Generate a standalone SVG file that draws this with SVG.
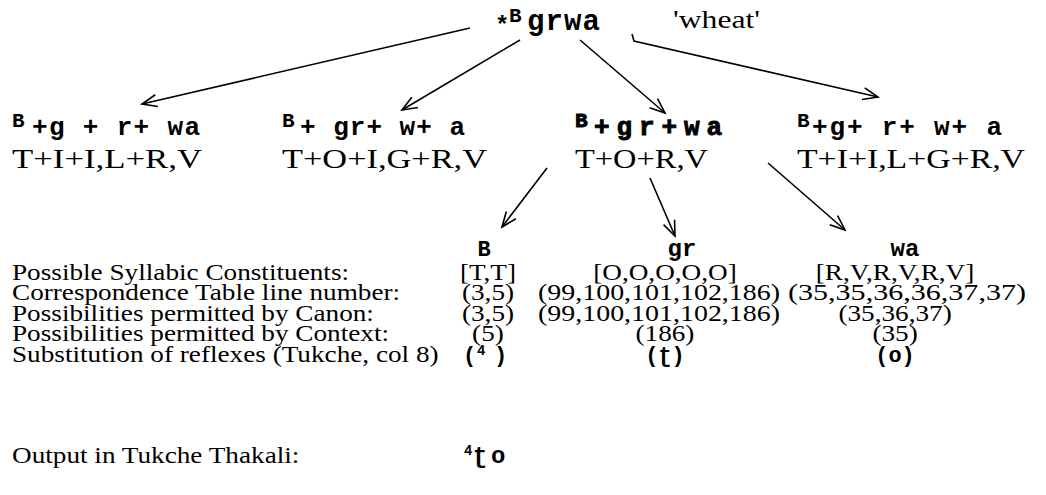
<svg xmlns="http://www.w3.org/2000/svg" width="1046" height="495" viewBox="0 0 1046 495">
<style>
.m{font-family:"Liberation Mono","DejaVu Sans Mono",monospace;font-weight:bold;fill:#000}
.s{font-family:"Liberation Serif","DejaVu Serif",serif;fill:#000}
.sup{font-size:21px}
.mono{font-size:26px}
.big{font-size:27px}
.tb{font-size:23px}
.hv{stroke:#000;stroke-width:0.9}
.c{fill:none;stroke:#000;stroke-width:1.6}
</style>
<defs>
<marker id="ah" markerWidth="20" markerHeight="20" refX="0" refY="0" viewBox="-16 -8 20 16" orient="auto" markerUnits="userSpaceOnUse">
<path d="M-15,-6 L0,0 L-15,6" fill="none" stroke="#000" stroke-width="1.6"/>
</marker>
</defs>
<rect width="1046" height="495" fill="#fff"/>

<g id="root">
<text class="m" x="495" y="33" font-size="24">*</text>
<text class="m sup" x="509" y="22">B</text>
<text class="m" x="527" y="30" font-size="29" textLength="73">grwa</text>
<text class="s" x="673" y="28" font-size="26" textLength="87" lengthAdjust="spacingAndGlyphs">'wheat'</text>
</g>

<g id="connectors">
<line class="c" x1="470" y1="28" x2="142" y2="104" marker-end="url(#ah)"/>
<line class="c" x1="520" y1="40" x2="402" y2="110" marker-end="url(#ah)"/>
<line class="c" x1="580" y1="40" x2="665" y2="113" marker-end="url(#ah)"/>
<polyline class="c" points="632,34 634,41 878,97" marker-end="url(#ah)"/>
<line class="c" x1="547" y1="168" x2="502" y2="227" marker-end="url(#ah)"/>
<line class="c" x1="650" y1="178" x2="675" y2="236" marker-end="url(#ah)"/>
<line class="c" x1="768" y1="163" x2="845" y2="230" marker-end="url(#ah)"/>
</g>

<g id="node1">
<text class="m sup" x="12" y="127">B</text>
<text class="m mono" x="32" y="135" textLength="168">+g + r+ wa</text>
<text class="s big" x="12" y="168" textLength="190" lengthAdjust="spacingAndGlyphs">T+I+I,L+R,V</text>
</g>
<g id="node2">
<text class="m sup" x="282" y="127">B</text>
<text class="m mono" x="300" y="135" textLength="165">+ gr+ w+ a</text>
<text class="s big" x="282" y="168" textLength="205" lengthAdjust="spacingAndGlyphs">T+O+I,G+R,V</text>
</g>
<g id="node3">
<text class="m sup hv" x="575" y="127">B</text>
<text class="m mono hv" x="594" y="135" textLength="128">+gr+wa</text>
<text class="s big" x="575" y="168" textLength="133" lengthAdjust="spacingAndGlyphs">T+O+R,V</text>
</g>
<g id="node4">
<text class="m sup" x="797" y="127">B</text>
<text class="m mono" x="812" y="135" textLength="190">+g+ r+ w+ a</text>
<text class="s big" x="797" y="168" textLength="228" lengthAdjust="spacingAndGlyphs">T+I+I,L+G+R,V</text>
</g>

<g id="constituentB"><text class="m" x="484" y="256" font-size="22" text-anchor="middle">B</text></g>
<g id="constituentGR"><text class="m" x="682" y="256" font-size="24" text-anchor="middle">gr</text></g>
<g id="constituentWA"><text class="m" x="905" y="256" font-size="24" text-anchor="middle">wa</text></g>

<g id="table" transform="scale(1.183,1)">
<text class="s tb" x="10.14" y="280">Possible Syllabic Constituents:</text>
<text class="s tb" x="10.14" y="300.5">Correspondence Table line number:</text>
<text class="s tb" x="10.14" y="321">Possibilities permitted by Canon:</text>
<text class="s tb" x="10.14" y="341.5">Possibilities permitted by Context:</text>
<text class="s tb" x="10.14" y="362">Substitution of reflexes (Tukche, col 8)</text>
<text class="s tb" x="10.14" y="463">Output in Tukche Thakali:</text>
<g text-anchor="middle">
<text class="s tb" x="412.5" y="280">[T,T]</text>
<text class="s tb" x="412.5" y="300.5">(3,5)</text>
<text class="s tb" x="412.5" y="321">(3,5)</text>
<text class="s tb" x="412.5" y="341.5">(5)</text>
<text class="s tb" x="562.1" y="280">[O,O,O,O,O]</text>
<text class="s tb" x="562.1" y="341.5">(186)</text>
<text class="s tb" x="756.6" y="280">[R,V,R,V,R,V]</text>
<text class="s tb" x="756.6" y="321">(35,36,37)</text>
<text class="s tb" x="756.6" y="341.5">(35)</text>
</g>
<text class="s tb" x="454.8" y="300.5" textLength="204.6" lengthAdjust="spacingAndGlyphs">(99,100,101,102,186)</text>
<text class="s tb" x="454.8" y="321" textLength="204.6" lengthAdjust="spacingAndGlyphs">(99,100,101,102,186)</text>
<text class="s tb" x="666.1" y="300.5" textLength="201.2" lengthAdjust="spacingAndGlyphs">(35,35,36,36,37,37)</text>
</g>

<g id="reflexes">
<text class="m" x="463" y="362" font-size="22">(</text>
<text class="m" x="477" y="355" font-size="14">4</text>
<text class="m" x="494" y="362" font-size="22">)</text>
<text class="m" x="665" y="362" font-size="22" text-anchor="middle">(ʈ)</text>
<text class="m" x="895" y="362" font-size="22" text-anchor="middle">(o)</text>
</g>

<g id="output">
<text class="m" x="464" y="455" font-size="14">4</text>
<text class="m" x="473" y="463" font-size="24">ʈ</text>
<text class="m" x="491" y="463" font-size="24">o</text>
</g>
</svg>
